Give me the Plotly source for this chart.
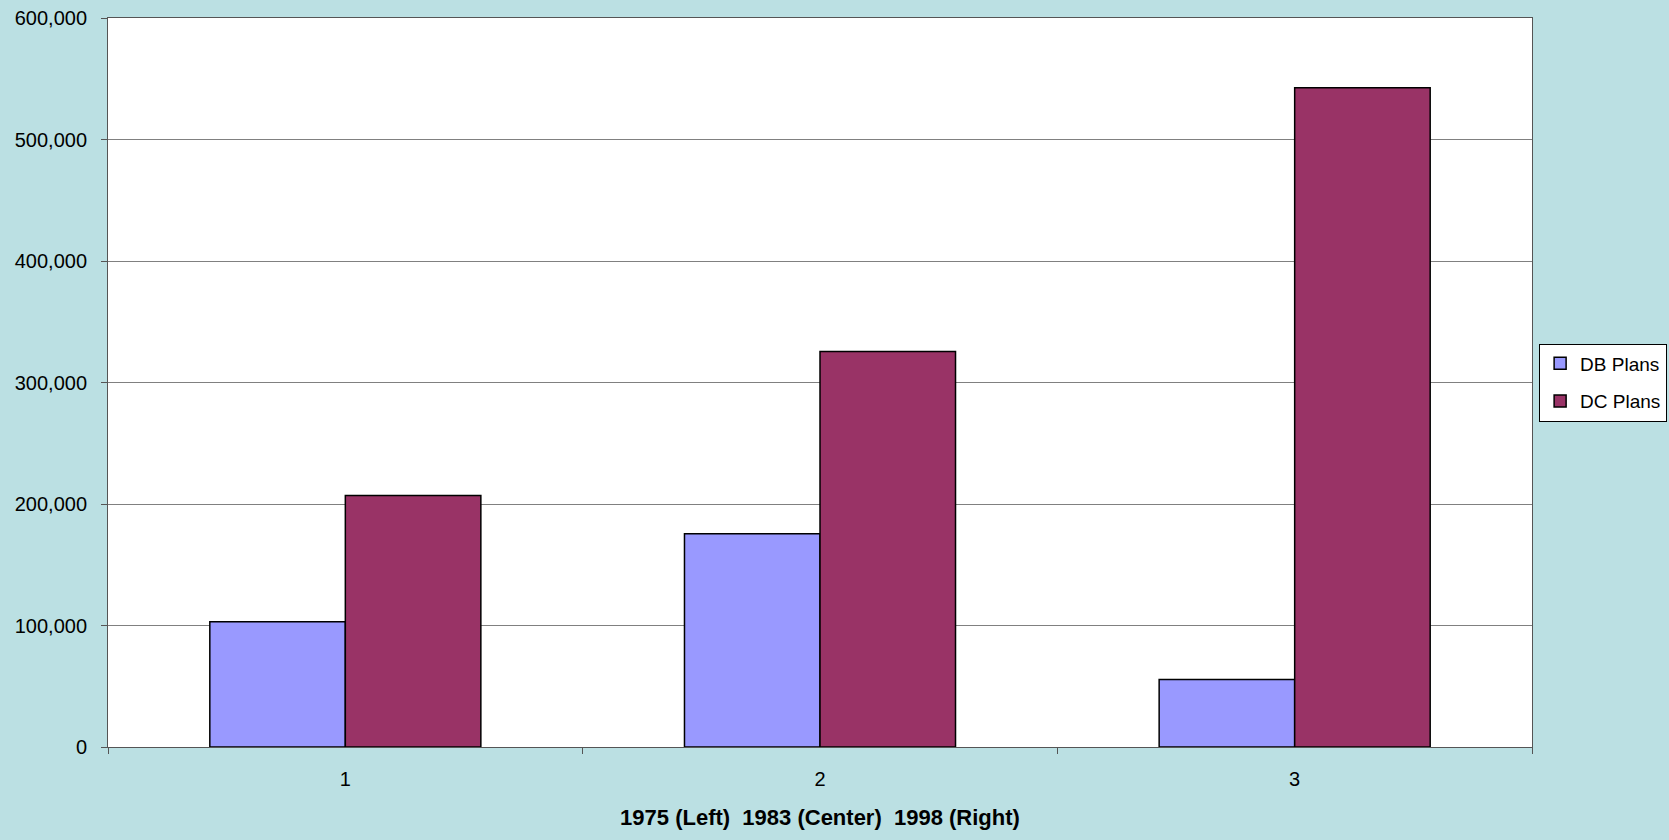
import plotly.graph_objects as go

categories = ["1", "2", "3"]
db_plans = [103000, 175500, 55500]
dc_plans = [207000, 325500, 542500]
series_names = ["DB Plans", "DC Plans"]
x_title = "1975 (Left)  1983 (Center)  1998 (Right)"

BG = "#BBE0E3"
FONT = "Liberation Sans, Arial, sans-serif"

fig = go.Figure()
fig.add_trace(go.Bar(x=categories, y=db_plans, name=series_names[0], legendgroup="a",
                     marker=dict(color="#9999FF", line=dict(color="black", width=1.5))))
fig.add_trace(go.Bar(x=categories, y=dc_plans, name=series_names[1], legendgroup="b",
                     marker=dict(color="#993366", line=dict(color="black", width=1.5))))

fig.update_layout(
    width=1669, height=840,
    paper_bgcolor=BG, plot_bgcolor="white",
    margin=dict(l=108, r=137, t=18, b=93, autoexpand=False),
    barmode="group", bargap=0.429, bargroupgap=0,
    font=dict(family=FONT, size=20, color="black"),
    legend=dict(x=1.005, y=0.5, xanchor="left", yanchor="middle",
                bgcolor="white", bordercolor="black", borderwidth=1,
                font=dict(size=19), tracegroupgap=10, traceorder="grouped"),
    xaxis=dict(type="category", tickson="boundaries", ticks="outside", ticklen=6,
               tickcolor="#555", showline=True, linecolor="#555", linewidth=1,
               mirror=True, ticklabelstandoff=14,
               title=dict(text="<b>" + x_title + "</b>", font=dict(size=22), standoff=20)),
    yaxis=dict(range=[0, 600000], tickvals=[0, 100000, 200000, 300000, 400000, 500000, 600000],
               tickformat=",", ticks="outside", ticklen=6, tickcolor="#555",
               showline=True, linecolor="#555", linewidth=1, mirror=True,
               showgrid=True, gridcolor="#808080", gridwidth=1, zeroline=False,
               ticklabelstandoff=10),
)

fig.write_html("out.html", config={"displayModeBar": False},
               post_script="document.body.style.margin='0';")
